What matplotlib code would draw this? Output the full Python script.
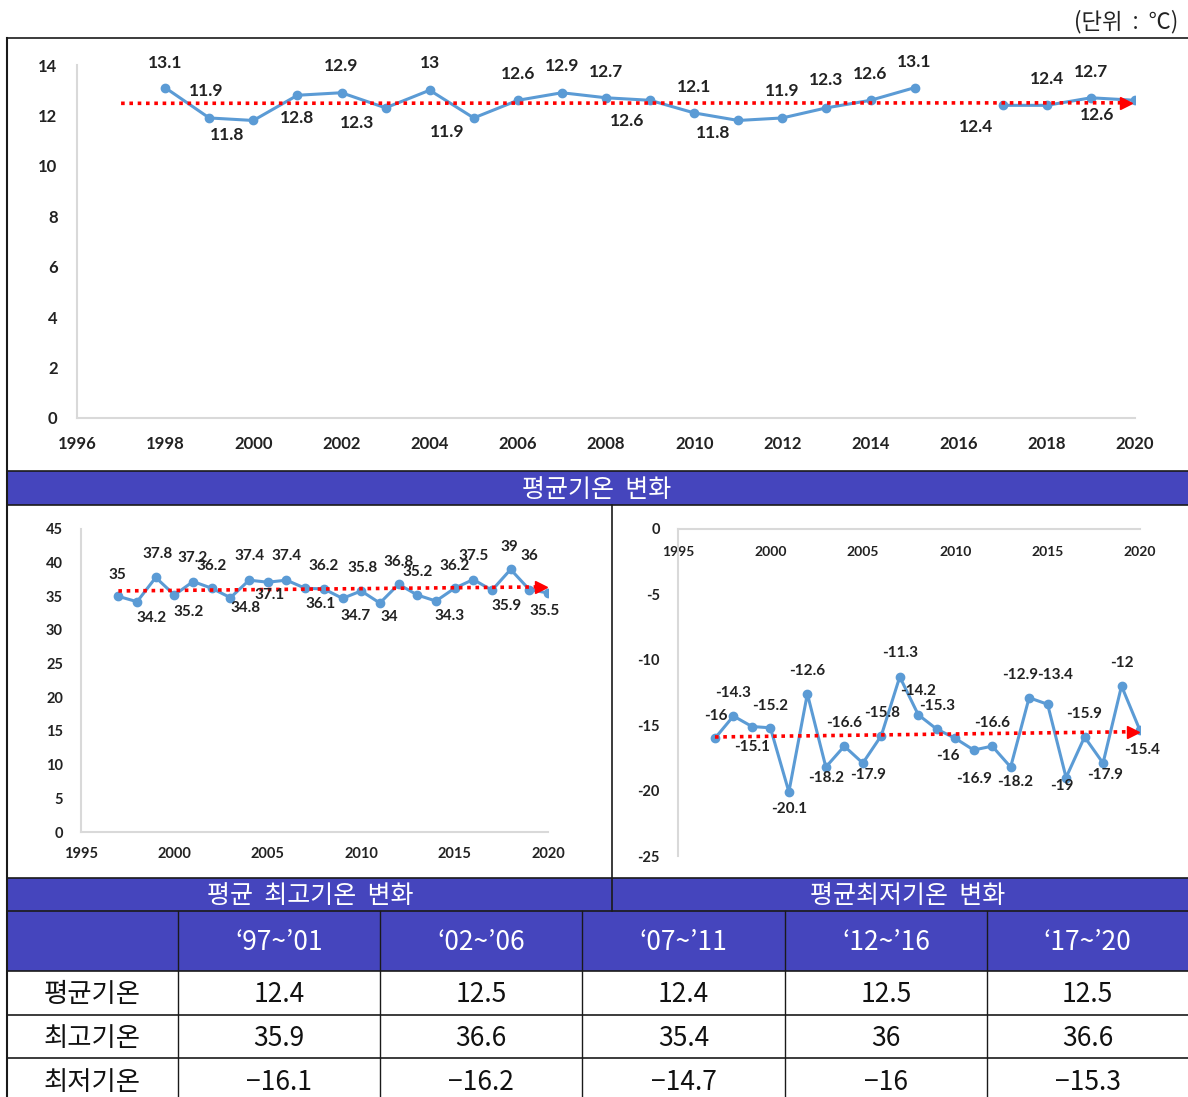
import matplotlib
matplotlib.use("Agg")
import matplotlib.pyplot as plt
import numpy as np
from matplotlib.patches import Rectangle

plt.rcParams['font.family'] = ['Noto Sans CJK KR', 'DejaVu Sans']
plt.rcParams['axes.unicode_minus'] = False

W, H = 1188, 1097

# ---- data ----
avg_years = list(range(1998, 2021))
avg_temp = [13.1, 11.9, 11.8, 12.8, 12.9, 12.3, 13.0, 11.9, 12.6, 12.9, 12.7,
            12.6, 12.1, 11.8, 11.9, 12.3, 12.6, 13.1, np.nan, 12.4, 12.4, 12.7, 12.6]
avg_trend_x = [1997, 2019.8]
avg_trend_y = [12.48, 12.5]

mm_years = list(range(1997, 2021))
max_temp = [35.0, 34.2, 37.8, 35.2, 37.2, 36.2, 34.8, 37.4, 37.1, 37.4, 36.2, 36.1,
            34.7, 35.8, 34.0, 36.8, 35.2, 34.3, 36.2, 37.5, 35.9, 39.0, 36.0, 35.5]
max_trend_x = [1997, 2019.6]
max_trend_y = [35.8, 36.4]

min_temp = [-16.0, -14.3, -15.1, -15.2, -20.1, -12.6, -18.2, -16.6, -17.9, -15.8, -11.3, -14.2,
            -15.3, -16.0, -16.9, -16.6, -18.2, -12.9, -13.4, -19.0, -15.9, -17.9, -12.0, -15.4]
min_trend_x = [1997, 2019.6]
min_trend_y = [-15.9, -15.5]

table_cols = ["‘97~’01", "‘02~’06", "‘07~’11", "‘12~’16", "‘17~’20"]
table_rows = ["평균기온", "최고기온", "최저기온"]
table_vals = [["12.4", "12.5", "12.4", "12.5", "12.5"],
              ["35.9", "36.6", "35.4", "36", "36.6"],
              ["−16.1", "−16.2", "−14.7", "−16", "−15.3"]]

# label offsets (pixels) for each data label
avg_off = [(0, 25), (-3, 27), (-26, -15), (0, -23), (0, 27), (-28, -15), (0, 27), (-27, -14),
           (0, 26), (0, 27), (0, 26), (-23, -21), (0, 26), (-25, -13), (0, 27), (0, 28),
           (0, 26), (0, 26), None, (-27, -22), (0, 26), (0, 26), (-38, -15)]
max_off = [(-1, 21), (15, -16), (2, 23), (14, -17), (0, 24), (0, 22), (15, -10), (0, 24),
           (2, -13), (0, 24), (18, 22), (-3, -15), (13, -18), (1, 23), (9, -14), (0, 22),
           (0, 23), (14, -15), (0, 22), (0, 23), (15, -16), (-1, 22), (0, 34), (-3, -18)]
min_off = [(1, 22), (0, 23), (0, -20), (0, 22), (0, -17), (0, 23), (0, -11), (0, 23),
           (5, -12), (1, 23), (0, 24), (0, 24), (0, 23), (-7, -18), (0, -29), (0, 23),
           (5, -15), (-9, 23), (7, 29), (-4, -8), (0, 23), (2, -12), (0, 23), (2, -20)]

BLUE = '#4545BD'
LINE = '#5B9BD5'
GRID = '#D9D9D9'
NUM_FONT = ['Lato', 'DejaVu Sans']


def box(x0, y0, x1, y1):
    return [x0 / W, 1 - y1 / H, (x1 - x0) / W, (y1 - y0) / H]


fig = plt.figure(figsize=(W / 100, H / 100), dpi=100)
fig.patch.set_facecolor('white')

# background frame in pixel coordinates
bg = fig.add_axes([0, 0, 1, 1])
bg.set_xlim(0, W)
bg.set_ylim(H, 0)
bg.axis('off')

for y0, y1 in [(471, 505), (878, 911), (911, 971)]:
    bg.add_patch(Rectangle((7, y0), W - 7, y1 - y0, facecolor=BLUE, edgecolor='none'))

for y in [38, 471, 505, 878, 911, 971, 1015, 1058]:
    bg.plot([7, W], [y, y], color='#1a1a1a', lw=1.2)
bg.plot([7, 7], [38, H], color='#1a1a1a', lw=1.5)
bg.plot([612, 612], [505, 911], color='#1a1a1a', lw=1.2)
col_x = [7, 178, 380, 582, 785, 987, W]
for x in col_x[1:-1]:
    bg.plot([x, x], [911, H], color='#1a1a1a', lw=1.0)

kw = dict(ha='center', va='center', fontweight='light')
bg.text(1178, 22, "(단위  :  ℃)", ha='right', va='center', fontsize=16,
        fontweight='light', color='#222')
bg.text(597, 490, "평균기온  변화", fontsize=18, color='white', **kw)
bg.text(310, 896, "평균  최고기온  변화", fontsize=18, color='white', **kw)
bg.text(908, 896, "평균최저기온  변화", fontsize=18, color='white', **kw)

for i, c in enumerate(table_cols):
    cx = (col_x[i + 1] + col_x[i + 2]) / 2
    bg.text(cx, 943, c, fontsize=19, color='white', **kw)
row_y = [995, 1039, 1082]
for r, lab in enumerate(table_rows):
    bg.text(92, row_y[r], lab, fontsize=19, color='#111', **kw)
    for i, v in enumerate(table_vals[r]):
        cx = (col_x[i + 1] + col_x[i + 2]) / 2
        bg.text(cx, row_y[r], v, fontsize=19, color='#111', **kw)


def style_axes(ax, fs, ypad, xpad):
    ax.set_facecolor('none')
    for s in ['top', 'right']:
        ax.spines[s].set_visible(False)
    for s in ['left', 'bottom']:
        ax.spines[s].set_color(GRID)
        ax.spines[s].set_linewidth(1.5)
    ax.tick_params(length=0, labelsize=fs, colors='#222')
    ax.tick_params(axis='y', pad=ypad)
    ax.tick_params(axis='x', pad=xpad)
    for t in ax.get_xticklabels() + ax.get_yticklabels():
        t.set_fontfamily(NUM_FONT)
        t.set_fontweight('bold')


def draw_series(ax, xs, ys, offs, tx, ty, fs):
    ax.plot(tx, ty, linestyle=(0, (1, 1.3)), color='red', lw=2.6, zorder=3)
    ax.plot([tx[-1]], [ty[-1]], marker='>', color='red', markersize=9, zorder=3)
    ax.plot(xs, ys, color=LINE, lw=2.2, marker='o', markersize=6, zorder=2)
    for x, y, o in zip(xs, ys, offs):
        if o is None or np.isnan(y):
            continue
        ax.annotate(f"{y:g}", (x, y), xytext=o, textcoords='offset pixels',
                    ha='center', va='center', fontsize=fs, fontweight='bold',
                    family=NUM_FONT, color='#222', annotation_clip=False, zorder=4)


# top chart: average temperature
ax1 = fig.add_axes(box(77, 65, 1135, 418))
ax1.set_xlim(1996, 2020)
ax1.set_ylim(0, 14)
ax1.set_xticks(range(1996, 2021, 2))
ax1.set_yticks(range(0, 15, 2))
draw_series(ax1, avg_years, avg_temp, avg_off, avg_trend_x, avg_trend_y, 12.5)
style_axes(ax1, 12, 14, 13)

# middle left: average maximum temperature
ax2 = fig.add_axes(box(81, 529, 548, 832))
ax2.set_xlim(1995, 2020)
ax2.set_ylim(0, 45)
ax2.set_xticks(range(1995, 2021, 5))
ax2.set_yticks(range(0, 46, 5))
draw_series(ax2, mm_years, max_temp, max_off, max_trend_x, max_trend_y, 11)
style_axes(ax2, 10.5, 13, 11)

# middle right: average minimum temperature
ax3 = fig.add_axes(box(678, 529, 1140, 856))
ax3.spines['bottom'].set_position(('data', 0))
ax3.set_xlim(1995, 2020)
ax3.set_ylim(-25, 0)
ax3.set_xticks(range(1995, 2021, 5))
ax3.set_yticks(range(-25, 1, 5))
draw_series(ax3, mm_years, min_temp, min_off, min_trend_x, min_trend_y, 11)
style_axes(ax3, 10.5, 13, 12)
for t in ax3.get_xticklabels():
    t.set_fontsize(10)

fig.savefig('out.png', dpi=100, facecolor='white')
